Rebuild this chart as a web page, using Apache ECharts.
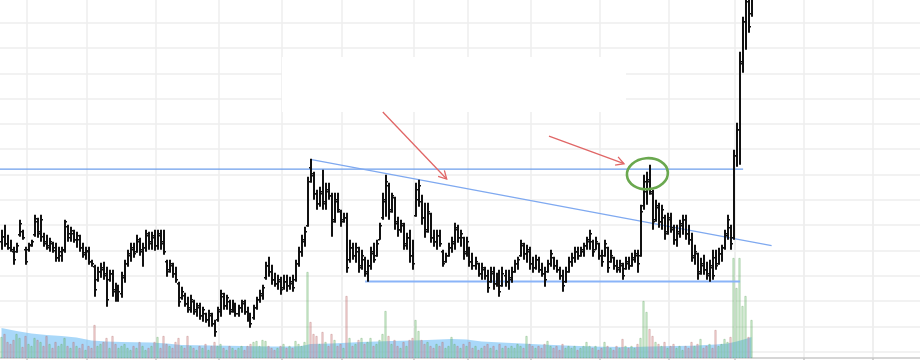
<!DOCTYPE html>
<html><head><meta charset="utf-8">
<script src="https://cdn.jsdelivr.net/npm/echarts/dist/echarts.min.js"></script>
<style>html,body{margin:0;padding:0;background:#fff}#c{width:920px;height:360px}</style>
</head><body><div id="c"></div>
<script>
// ---- data ----
const slotCount = 307; // trading-day slots on the date axis (data + empty future)
const dayLabels = Array.from({length: slotCount}, (_, i) => 'd' + i);
const monthTicks = [9, 29, 52, 73, 94, 114, 138, 156, 177, 200, 223, 245, 268, 291];

const opens = [
110,115,108,104,100,100,117,120,102,102, 106,117,130,118,115,110,104,108,104,94,
96,101,125,114,118,112,112,104,99,100, 90,85,72,80,82,78,72,78,62,54,
58,74,88,96,102,100,110,100,104,116, 108,114,106,116,110,90,82,86,78,68,
54,56,48,42,50,42,44,36,38,32, 36,28,32,40,55,46,50,42,46,38,
44,48,40,34,34,44,52,56,74,86, 80,72,68,70,64,70,66,68,72,88,
100,110,126,184,178,158,148,158,148,160, 156,132,150,140,132,134,92,104,96,100,
86,92,78,86,98,96,112,134,150,166, 142,154,128,122,126,106,114,96,136,152,
150,134,122,138,114,110,116,100,90,96, 104,108,122,114,114,100,104,90,86,88,
78,82,76,70,78,68,74,66,76,70, 72,80,88,96,106,98,100,88,84,92,
82,78,80,88,94,86,82,76,70,80, 90,94,100,96,100,106,110,110,102,108,
96,96,104,90,94,86,82,86,83,88, 86,92,96,96,146,160,172,158,132,144,
130,134,120,132,122,112,118,126,132,118, 112,94,98,80,86,82,76,84,94,88,
98,104,116,124,114,196,222,288,330,355,338];
const highs = [
122,127,117,112,105,109,132,122,105,109, 112,137,134,137,119,117,114,110,109,105,
105,132,127,125,122,120,117,109,105,105, 92,87,85,89,90,85,82,82,69,67,
80,92,102,109,109,117,114,109,122,120, 120,122,122,122,122,92,92,89,85,70,
65,59,55,57,52,49,49,45,39,42, 39,32,45,62,59,57,52,52,49,47,
52,52,45,39,47,55,62,67,90,95, 87,79,77,75,77,77,75,77,92,105,
117,125,175,193,180,162,165,182,169,169, 159,159,159,142,139,139,112,109,109,105,
102,95,92,105,109,112,129,159,177,169, 159,155,135,132,129,119,122,112,169,172,
157,149,149,139,122,122,122,102,99,109, 115,129,127,122,115,115,105,99,95,89,
89,85,82,85,85,79,82,85,82,82, 85,92,95,112,109,107,105,95,97,95,
89,85,92,102,95,92,85,82,85,95, 99,105,105,105,109,115,122,112,115,109,
102,112,105,102,95,92,92,89,95,95, 99,102,102,147,177,180,187,162,152,149,
147,137,139,139,127,127,132,137,137,127, 119,107,99,94,97,90,92,102,102,104,
107,122,137,127,202,229,300,335,360,368,375];
const lows = [
102,105,102,100,87,99,115,112,87,100, 105,115,114,110,105,102,100,99,90,90,
90,99,110,110,109,104,100,94,92,87, 85,55,70,74,72,45,70,55,50,50,
54,69,85,90,94,99,96,85,100,102, 102,101,102,102,97,75,79,74,69,45,
52,45,39,39,37,35,32,30,29,25, 25,15,30,35,42,42,37,39,35,35,
39,37,30,24,32,42,49,52,72,75, 67,65,62,57,62,60,62,60,70,85,
95,105,125,169,152,142,145,142,142,152, 115,129,139,125,129,79,89,92,89,79,
82,75,70,82,89,95,112,132,135,132, 139,122,115,119,102,102,89,82,135,145,
127,114,119,109,105,102,105,85,89,95, 99,102,109,105,92,95,85,82,82,75,
72,72,59,69,62,65,55,65,65,62, 69,79,82,95,92,89,82,79,82,79,
75,65,79,85,82,79,72,60,69,79, 85,89,92,95,95,102,102,95,102,92,
85,95,79,89,82,79,79,72,82,82, 85,89,79,95,142,147,157,122,130,124,
122,112,117,119,107,105,114,117,112,107, 90,87,72,77,77,72,70,72,82,87,
90,102,112,102,112,185,187,279,302,319,335];
const closes = [
115,108,104,102,92,106,128,114,90,107, 110,133,120,132,108,106,110,101,94,100,
102,130,118,121,112,116,104,97,101,90, 88,62,80,84,76,52,78,60,54,60,
76,88,98,104,98,112,102,104,118,110, 116,106,118,108,100,80,88,78,72,50,
60,48,44,52,40,46,36,42,32,38, 28,20,42,58,46,54,40,48,38,44,
50,40,34,28,44,52,58,64,86,80, 72,68,72,62,70,66,70,64,88,100,
112,120,170,176,158,148,160,150,162,156, 130,152,142,130,134,84,104,96,104,84,
96,80,86,100,92,108,126,152,170,140, 156,130,122,128,108,114,96,88,162,166,
134,120,140,114,110,116,108,88,96,104, 110,124,114,118,98,110,90,86,90,78,
84,76,64,80,68,74,60,78,70,74, 80,88,92,108,98,102,88,84,92,82,
78,72,88,98,86,82,76,66,80,90, 94,100,96,102,106,112,118,100,110,96,
90,108,84,96,86,84,88,76,90,86, 94,98,88,140,170,170,160,130,146,130,
142,118,134,124,112,120,128,132,118,112, 96,100,78,88,82,78,86,76,86,98,
104,118,132,108,196,222,290,330,350,325,370];
const volumes = [
210,240,160,140,180,240,200,110,220,140, 120,200,180,160,120,220,140,100,160,120,
140,200,120,100,160,120,100,140,80,120, 100,330,120,140,160,200,100,220,140,100,
120,140,100,80,120,100,160,120,80,100, 120,160,210,100,220,140,120,100,160,200,
120,100,220,120,100,80,120,100,140,80, 120,160,120,140,100,80,120,100,80,100,
120,80,120,140,160,170,120,180,170,120, 100,80,100,120,140,100,120,100,170,140,
120,160,860,360,240,220,140,260,160,120, 240,180,120,140,100,620,200,120,140,180,
200,140,160,200,120,140,180,240,470,220, 140,180,120,100,160,120,180,200,380,270,
180,140,160,120,100,140,120,160,100,120, 210,140,120,100,140,120,160,100,120,80,
100,120,140,100,120,80,140,100,120,100, 120,100,140,120,100,220,140,120,100,120,
100,140,170,120,100,120,80,140,100,120, 100,120,80,100,120,160,120,100,120,80,
100,160,120,100,80,120,100,190,120,100, 120,100,140,200,570,460,290,220,160,140,
120,160,100,120,140,100,120,80,120,100, 160,120,140,190,100,120,140,100,280,120,
140,190,160,210,1000,700,1000,520,620,210,380];
// volume moving average, read at these day indexes
const volAvgDay = [0,5,10,15,20,25,30,35,40,50,55,60,70,80,90,97,100,103,110,120,130,140,150,155,160,170,180,190,200,210,220,230,238,242,245,248,250];
const volAvgVal = [300,270,245,230,220,205,175,165,160,155,145,130,125,120,115,115,120,140,145,160,170,178,190,185,165,150,135,122,112,110,118,122,135,145,165,190,210];

// drawn annotations: [dayIndex, price]
const resistanceLine = [[-0.5, 182.5], [247.2, 182.5]];
const fallingLine = [[103.4, 192], [256.7, 106]];
const supportLine = [[121.2, 70.3], [246.2, 70.3]];
const arrowA = [[127.1, 239.7], [148.4, 172.7]];
const arrowB = [[182.5, 215.5], [207.5, 188]];
const circleAt = [215.3, 178];

// ---- chart ----
const chart = echarts.init(document.getElementById('c'), null, {renderer: 'canvas'});
const ohlc = opens.map((o, i) => [i, o, closes[i], lows[i], highs[i]]);
const volData = volumes.map((v, i) => ({
  value: v,
  itemStyle: closes[i] >= opens[i]
    ? {color: 'rgba(120,200,120,0.32)', borderColor: 'rgba(90,160,90,0.55)', borderWidth: 0.6}
    : {color: 'rgba(220,130,130,0.32)', borderColor: 'rgba(170,100,100,0.55)', borderWidth: 0.6}
}));
const avgData = volAvgDay.map((d, j) => [d, volAvgVal[j]]);
const isMonth = (idx) => monthTicks.indexOf(idx) >= 0;
const gridColor = '#eeeeee';

chart.setOption({
  animation: false,
  grid: [
    {left: 0, top: -27.95, width: 921, height: 379.65, outerBoundsMode: 'none', containLabel: false},
    {left: 0, top: 200, width: 921, height: 158, outerBoundsMode: 'none', containLabel: false}
  ],
  xAxis: [
    {type: 'category', gridIndex: 0, data: dayLabels, boundaryGap: true,
     axisLine: {show: false}, axisTick: {show: false}, axisLabel: {show: false},
     splitLine: {show: true, interval: isMonth, lineStyle: {color: gridColor, width: 1.5}}},
    {type: 'category', gridIndex: 1, data: dayLabels, boundaryGap: true,
     axisLine: {show: true, lineStyle: {color: '#c8c8c8', width: 1.5}},
     axisTick: {show: true, interval: isMonth, length: 5, lineStyle: {color: '#c8c8c8', width: 1.5}},
     axisLabel: {show: false},
     splitLine: {show: true, interval: isMonth, lineStyle: {color: gridColor, width: 1.5}}},
    {type: 'value', gridIndex: 0, min: -0.5, max: slotCount - 0.5, show: false}
  ],
  yAxis: [
    {type: 'value', gridIndex: 0, min: 0, max: 379.65, interval: 25.31,
     axisLine: {show: false}, axisTick: {show: false}, axisLabel: {show: false},
     splitLine: {show: true, lineStyle: {color: gridColor, width: 1.5}}},
    {type: 'value', gridIndex: 1, min: 0, max: 1580, show: false, splitLine: {show: false}}
  ],
  series: [
    {type: 'line', xAxisIndex: 1, yAxisIndex: 1, data: avgData, symbol: 'none', silent: true,
     lineStyle: {width: 0}, areaStyle: {color: 'rgba(110,190,245,0.85)', origin: 'start'}, z: 1},
    {type: 'bar', xAxisIndex: 1, yAxisIndex: 1, data: volData, barWidth: 2, silent: true, z: 2},
    {type: 'custom', xAxisIndex: 0, yAxisIndex: 0, data: ohlc, z: 5, silent: true,
     renderItem: function (params, api) {
       const i = api.value(0);
       const pO = api.coord([i, api.value(1)]);
       const pC = api.coord([i, api.value(2)]);
       const pL = api.coord([i, api.value(3)]);
       const pH = api.coord([i, api.value(4)]);
       const x = Math.round(pO[0]);
       const st = {stroke: '#111', lineWidth: 1.6};
       return {type: 'group', children: [
         {type: 'line', shape: {x1: x, y1: pH[1], x2: x, y2: pL[1]}, style: {stroke: '#111', lineWidth: 2}},
         {type: 'line', shape: {x1: x - 2, y1: pO[1], x2: x, y2: pO[1]}, style: st},
         {type: 'line', shape: {x1: x, y1: pC[1], x2: x + 2, y2: pC[1]}, style: st}
       ]};
     }},
    {type: 'line', xAxisIndex: 2, yAxisIndex: 0, data: resistanceLine, symbol: 'none', silent: true, z: 4,
     lineStyle: {color: '#6d9eeb', width: 1.2}},
    {type: 'line', xAxisIndex: 2, yAxisIndex: 0, data: fallingLine, symbol: 'none', silent: true, z: 4,
     lineStyle: {color: '#7fa9f0', width: 1.2}},
    {type: 'line', xAxisIndex: 2, yAxisIndex: 0, data: supportLine, symbol: 'none', silent: true, z: 4,
     lineStyle: {color: '#8ab4f8', width: 2}}
  ]
});

function px(p) { return chart.convertToPixel({seriesIndex: 3}, p); }
function arrow(a, color) {
  const s = px(a[0]), t = px(a[1]);
  const ang = Math.atan2(t[1] - s[1], t[0] - s[0]);
  const L = 9, spread = 0.5;
  const h1 = [t[0] - L * Math.cos(ang - spread), t[1] - L * Math.sin(ang - spread)];
  const h2 = [t[0] - L * Math.cos(ang + spread), t[1] - L * Math.sin(ang + spread)];
  return [
    {type: 'line', shape: {x1: s[0], y1: s[1], x2: t[0], y2: t[1]}, style: {stroke: color, lineWidth: 1.3}, z: 10},
    {type: 'polyline', shape: {points: [h1, t, h2]}, style: {stroke: color, fill: null, lineWidth: 1.3}, z: 10}
  ];
}
const c = px(circleAt);
chart.setOption({
  graphic: [
    {type: 'rect', shape: {x: 282, y: 57, width: 344, height: 55}, style: {fill: '#fff'}, z: 1, silent: true},
    ...arrow(arrowA, '#e06666'),
    ...arrow(arrowB, '#e06666'),
    {type: 'ellipse', shape: {cx: c[0], cy: c[1], rx: 20.5, ry: 15.5}, rotation: 0.08,
     originX: c[0], originY: c[1], style: {stroke: '#6aa84f', fill: null, lineWidth: 2.6}, z: 10}
  ]
});
</script>
</body></html>
